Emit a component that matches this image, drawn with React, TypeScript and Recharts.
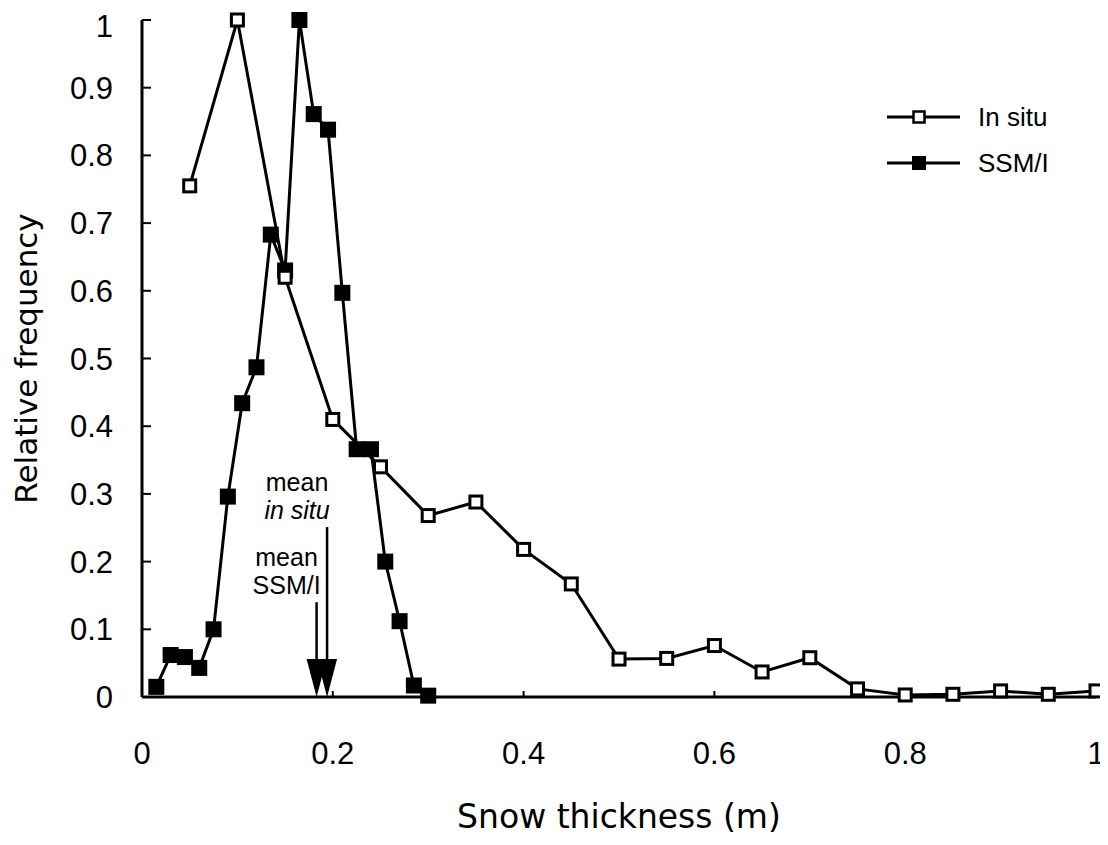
import * as React from "react";
import {
  LineChart,
  Line,
  XAxis,
  YAxis,
  Legend,
  Label,
  ReferenceLine,
} from "recharts";

// snow thickness bins (m) and relative frequency
const IN_SITU_X = [
  0.05, 0.1, 0.15, 0.2, 0.25, 0.3, 0.35, 0.4, 0.45, 0.5,
  0.55, 0.6, 0.65, 0.7, 0.75, 0.8, 0.85, 0.9, 0.95, 1.0,
];
const IN_SITU_Y = [
  0.755, 1.0, 0.62, 0.41, 0.34, 0.268, 0.288, 0.218, 0.167, 0.056,
  0.057, 0.076, 0.037, 0.058, 0.012, 0.003, 0.004, 0.009, 0.004, 0.009,
];

const SSMI_X = [
  0.015, 0.03, 0.045, 0.06, 0.075, 0.09, 0.105, 0.12, 0.135, 0.15,
  0.165, 0.18, 0.195, 0.21, 0.225, 0.24, 0.255, 0.27, 0.285, 0.3,
];
const SSMI_Y = [
  0.015, 0.062, 0.059, 0.043, 0.1, 0.296, 0.434, 0.487, 0.683, 0.63,
  1.0, 0.861, 0.838, 0.597, 0.366, 0.366, 0.2, 0.112, 0.017, 0.002,
];

const MEAN_IN_SITU = 0.194;
const MEAN_SSMI = 0.183;

const X_TICKS = [0, 0.2, 0.4, 0.6, 0.8, 1];
const Y_TICKS = [0, 0.1, 0.2, 0.3, 0.4, 0.5, 0.6, 0.7, 0.8, 0.9, 1];

const inSituData = IN_SITU_X.map((x, i) => ({ x, y: IN_SITU_Y[i] }));
const ssmiData = SSMI_X.map((x, i) => ({ x, y: SSMI_Y[i] }));

const SANS = '"Liberation Sans", Arial, Helvetica, sans-serif';
const WIDE = '"DejaVu Sans", Verdana, sans-serif';

const LEGEND_ITEMS = [
  { name: "In situ", filled: false },
  { name: "SSM/I", filled: true },
];

const squareDot = (filled: boolean) => (props: any) => {
  const { cx, cy, index } = props;
  if (cx == null || cy == null) return <g key={`e-${index}`} />;
  const s = filled ? 16 : 12;
  return (
    <rect
      key={`d-${index}`}
      x={cx - s / 2}
      y={cy - s / 2}
      width={s}
      height={s}
      fill={filled ? "#000" : "#fff"}
      stroke="#000"
      strokeWidth={filled ? 0 : 3}
    />
  );
};

const meanArrow =
  (top: string, bottom: string, italic: boolean) => (p: any) => {
    const { x1, y1, x2, y2 } = p;
    const head = 38;
    const hw = 10;
    return (
      <g>
        <line x1={x1} y1={y1} x2={x2} y2={y2 - head + 2} stroke="#000" strokeWidth={2.5} />
        <polygon
          points={`${x2 - hw},${y2 - head} ${x2 + hw},${y2 - head} ${x2},${y2}`}
          fill="#000"
        />
        <text x={x1 - 30} y={y1 - 36} textAnchor="middle" fontFamily={SANS} fontSize={25} fill="#000">
          {top}
        </text>
        <text
          x={x1 - 30}
          y={y1 - 8}
          textAnchor="middle"
          fontFamily={SANS}
          fontSize={25}
          fontStyle={italic ? "italic" : "normal"}
          fill="#000"
        >
          {bottom}
        </text>
      </g>
    );
  };

const renderLegend = () => (
  <svg width={220} height={80}>
    {LEGEND_ITEMS.map((item, i) => {
      const cy = 18 + i * 46;
      const s = item.filled ? 14 : 11;
      return (
        <g key={item.name}>
          <line x1={0} y1={cy} x2={73} y2={cy} stroke="#000" strokeWidth={3} />
          <rect
            x={32 - s / 2}
            y={cy - s / 2}
            width={s}
            height={s}
            fill={item.filled ? "#000" : "#fff"}
            stroke="#000"
            strokeWidth={item.filled ? 0 : 2.5}
          />
          <text x={91} y={cy + 9} fontFamily={SANS} fontSize={26} fill="#000">
            {item.name}
          </text>
        </g>
      );
    })}
  </svg>
);

const App: React.FC = () => {
  return (
    <LineChart width={1100} height={837} margin={{ top: 12, right: 12, bottom: 8, left: 2 }}>
      <XAxis
        type="number"
        dataKey="x"
        domain={[0, 1]}
        ticks={X_TICKS}
        height={140}
        tickSize={-6}
        tickMargin={51}
        axisLine={{ stroke: "#000", strokeWidth: 3 }}
        tickLine={{ stroke: "#000", strokeWidth: 2 }}
        tick={{ fontSize: 31, fill: "#000", fontFamily: SANS }}
      >
        <Label
          value="Snow thickness (m)"
          position="insideBottom"
          offset={9}
          style={{ fontSize: 33, fill: "#000", fontFamily: WIDE }}
        />
      </XAxis>
      <YAxis
        type="number"
        domain={[0, 1]}
        ticks={Y_TICKS}
        width={132}
        tickSize={-9}
        tickMargin={38}
        axisLine={{ stroke: "#000", strokeWidth: 3 }}
        tickLine={{ stroke: "#000", strokeWidth: 2 }}
        tick={{ fontSize: 31, fill: "#000", fontFamily: SANS }}
      >
        <Label
          value="Relative frequency"
          position="insideLeft"
          angle={-90}
          offset={16}
          style={{ fontSize: 31, fill: "#000", fontFamily: WIDE, textAnchor: "middle" }}
        />
      </YAxis>
      <Legend
        layout="vertical"
        verticalAlign="middle"
        align="center"
        content={renderLegend}
        wrapperStyle={{ left: 879, top: 91, width: 220, height: 80 }}
      />
      <ReferenceLine
        segment={[
          { x: MEAN_IN_SITU, y: 0.251 },
          { x: MEAN_IN_SITU, y: 0 },
        ]}
        shape={meanArrow("mean", "in situ", true)}
      />
      <ReferenceLine
        segment={[
          { x: MEAN_SSMI, y: 0.14 },
          { x: MEAN_SSMI, y: 0 },
        ]}
        shape={meanArrow("mean", "SSM/I", false)}
      />
      <Line
        data={ssmiData}
        dataKey="y"
        name="SSM/I"
        stroke="#000"
        strokeWidth={3}
        dot={squareDot(true)}
        activeDot={false}
        isAnimationActive={false}
      />
      <Line
        data={inSituData}
        dataKey="y"
        name="In situ"
        stroke="#000"
        strokeWidth={3}
        dot={squareDot(false)}
        activeDot={false}
        isAnimationActive={false}
      />
    </LineChart>
  );
};

export default App;
